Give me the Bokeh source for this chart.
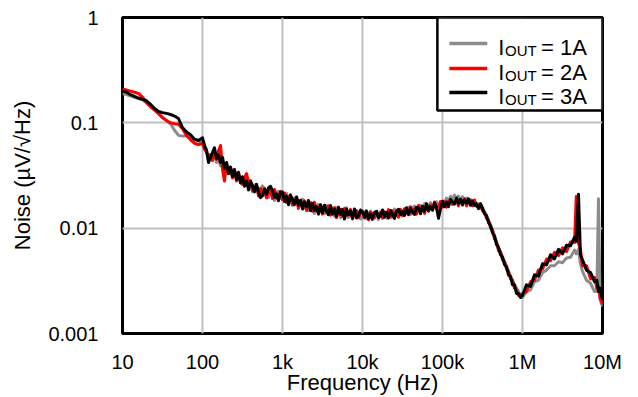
from bokeh.plotting import figure
from bokeh.models import Range1d, FixedTicker, BoxAnnotation, Label
from bokeh.embed import file_html
from bokeh.resources import INLINE

# ---------------- data ----------------
FREQ = [
    10, 11.2, 12.6, 14.1, 15.8, 17.8, 20, 22.4, 25.1, 28.2, 31.6, 35.5, 39.8, 44.7, 50.1, 56.2, 63.1, 70.8, 79.4, 89.1,
    100, 106, 112, 119, 126, 133, 141, 150, 158, 168, 178, 188, 200, 211, 224, 237, 251, 266, 282, 299,
    316, 335, 355, 376, 398, 422, 447, 473, 501, 531, 562, 596, 631, 668, 708, 750, 794, 841, 891, 944,
    1000, 1060, 1120, 1190, 1260, 1330, 1410, 1500, 1580, 1680, 1780, 1880, 2000, 2110, 2240, 2370, 2510, 2660, 2820, 2990,
    3160, 3350, 3550, 3760, 3980, 4220, 4470, 4730, 5010, 5310, 5620, 5960, 6310, 6680, 7080, 7500, 7940, 8410, 8910, 9440,
    1.0e4, 1.06e4, 1.12e4, 1.19e4, 1.26e4, 1.33e4, 1.41e4, 1.5e4, 1.58e4, 1.68e4, 1.78e4, 1.88e4, 2.0e4, 2.11e4, 2.24e4,
    2.37e4, 2.51e4, 2.66e4, 2.82e4, 2.99e4, 3.16e4, 3.35e4, 3.55e4, 3.76e4, 3.98e4, 4.22e4, 4.47e4, 4.73e4, 5.01e4, 5.31e4,
    5.62e4, 5.96e4, 6.31e4, 6.68e4, 7.08e4, 7.5e4, 7.94e4, 8.41e4, 8.91e4, 9.44e4,
    1.0e5, 1.06e5, 1.12e5, 1.19e5, 1.26e5, 1.33e5, 1.41e5, 1.5e5, 1.58e5, 1.68e5, 1.78e5, 1.88e5, 2.0e5, 2.11e5, 2.24e5,
    2.37e5, 2.51e5, 2.66e5, 2.82e5, 2.99e5, 3.16e5, 3.35e5, 3.55e5, 3.76e5, 3.98e5, 4.22e5, 4.47e5, 4.73e5, 5.01e5, 5.31e5,
    5.62e5, 5.96e5, 6.31e5, 6.68e5, 7.08e5, 7.5e5, 7.94e5, 8.41e5, 8.91e5, 9.44e5,
    1.0e6, 1.12e6, 1.26e6, 1.41e6, 1.58e6, 1.78e6, 2.0e6, 2.24e6, 2.51e6, 2.82e6, 3.16e6, 3.55e6, 3.98e6, 4.47e6, 4.7e6,
    5.01e6, 5.3e6, 5.62e6, 6.31e6, 7.08e6, 7.94e6, 8.5e6, 8.91e6, 9.3e6, 1.0e7,
]

NOISE_1A = [
    0.19, 0.185, 0.18, 0.175, 0.17, 0.165, 0.155, 0.145, 0.135, 0.122, 0.113, 0.105, 0.098, 0.085, 0.076, 0.075, 0.075, 0.072, 0.069, 0.067,
    0.066, 0.058, 0.056, 0.047, 0.05, 0.044, 0.049, 0.042, 0.046, 0.039, 0.043, 0.036, 0.04, 0.033, 0.037, 0.031, 0.035, 0.029, 0.033, 0.028,
    0.0302, 0.0259, 0.030, 0.0239, 0.0263, 0.0221, 0.0257, 0.0259, 0.0212, 0.0218, 0.0252, 0.0205, 0.0229, 0.0194, 0.0232, 0.0202, 0.0183, 0.0218, 0.0224, 0.0192,
    0.0216, 0.0185, 0.0215, 0.0173, 0.0193, 0.0164, 0.0194, 0.0196, 0.0161, 0.0167, 0.0189, 0.0155, 0.0173, 0.0147, 0.0175, 0.0153, 0.0138, 0.0164, 0.0168, 0.0144,
    0.0154, 0.0137, 0.0164, 0.0135, 0.0156, 0.0142, 0.013, 0.0156, 0.0148, 0.0125, 0.0151, 0.0131, 0.0156, 0.0126, 0.0138, 0.0127, 0.015, 0.0131, 0.0143, 0.0122,
    0.0126, 0.0143, 0.0123, 0.0137, 0.0145, 0.0125, 0.013, 0.0144, 0.0121, 0.0141, 0.013, 0.0144, 0.0124, 0.0139, 0.0145, 0.0128, 0.0152, 0.0132, 0.0139, 0.0151,
    0.013, 0.0151, 0.0139, 0.0157, 0.0135, 0.0156, 0.0162, 0.0138, 0.0158, 0.0165, 0.0147, 0.0171, 0.0152, 0.0158, 0.0175, 0.0149, 0.0171, 0.0178, 0.0159, 0.0174,
    0.0181, 0.0173, 0.0193, 0.0181, 0.0201, 0.0188, 0.0206, 0.0188, 0.0202, 0.0184, 0.0199, 0.0185, 0.0193, 0.0178, 0.0187, 0.0171, 0.018, 0.0165, 0.017, 0.0155,
    0.0158, 0.0143, 0.0133, 0.0118, 0.0108, 0.0095, 0.0085, 0.0074, 0.0066, 0.0059, 0.0054, 0.0048, 0.0044, 0.0039, 0.0035, 0.0032, 0.0029, 0.0027, 0.0025, 0.0023,
    0.0022, 0.0025, 0.0026, 0.0031, 0.0032, 0.0038, 0.004, 0.0044, 0.0044, 0.0048, 0.0047, 0.0052, 0.0053, 0.0062, 0.0057,
    0.0063, 0.0046, 0.0039, 0.0032, 0.003, 0.0025, 0.0025, 0.019, 0.0021, 0.0018,
]

NOISE_2A = [
    0.21, 0.205, 0.2, 0.195, 0.19, 0.175, 0.155, 0.142, 0.132, 0.122, 0.112, 0.105, 0.1, 0.098, 0.097, 0.088, 0.076, 0.069, 0.064, 0.062,
    0.064, 0.056, 0.053, 0.046, 0.05, 0.044, 0.052, 0.045, 0.054, 0.061, 0.036, 0.028, 0.041, 0.033, 0.038, 0.03, 0.036, 0.028, 0.033, 0.027,
    0.026, 0.030, 0.033, 0.0274, 0.0283, 0.0228, 0.0233, 0.0259, 0.0202, 0.0239, 0.0214, 0.024, 0.0194, 0.0219, 0.023, 0.0191, 0.0233, 0.0194, 0.0202, 0.0222,
    0.0186, 0.0215, 0.0175, 0.0198, 0.0208, 0.0169, 0.0176, 0.0196, 0.0154, 0.0182, 0.0161, 0.0182, 0.0147, 0.0166, 0.0174, 0.0145, 0.0176, 0.0146, 0.0151, 0.0167,
    0.0136, 0.0161, 0.0142, 0.0163, 0.0133, 0.0152, 0.0157, 0.0126, 0.0146, 0.0151, 0.0129, 0.0154, 0.0131, 0.0135, 0.0151, 0.0122, 0.0141, 0.0147, 0.0126, 0.0139,
    0.0145, 0.0125, 0.0138, 0.012, 0.0142, 0.0136, 0.0125, 0.0145, 0.0129, 0.0142, 0.0124, 0.0142, 0.0133, 0.015, 0.0127, 0.0146, 0.0131, 0.0142, 0.0127, 0.015,
    0.0133, 0.0153, 0.014, 0.0134, 0.016, 0.0139, 0.0153, 0.0136, 0.0164, 0.0146, 0.0161, 0.0138, 0.0166, 0.0153, 0.0166, 0.0148, 0.0177, 0.0153, 0.0159, 0.0179,
    0.0158, 0.0179, 0.0158, 0.0179, 0.0188, 0.0168, 0.0174, 0.019, 0.0163, 0.0186, 0.0174, 0.019, 0.0163, 0.018, 0.0184, 0.0163, 0.0185, 0.0161, 0.0163, 0.017,
    0.0147, 0.0142, 0.0124, 0.0119, 0.0101, 0.0096, 0.0079, 0.0074, 0.0061, 0.006, 0.005, 0.0048, 0.0041, 0.0039, 0.0033, 0.0032, 0.0027, 0.0026, 0.0023, 0.0023,
    0.0024, 0.0025, 0.0031, 0.0032, 0.004, 0.0041, 0.0051, 0.0049, 0.0059, 0.0055, 0.0065, 0.006, 0.0074, 0.0073, 0.02,
    0.0072, 0.0063, 0.0044, 0.0044, 0.0033, 0.0034, 0.0027, 0.0028, 0.0022, 0.0019,
]

NOISE_3A = [
    0.2, 0.195, 0.185, 0.178, 0.172, 0.167, 0.162, 0.15, 0.137, 0.128, 0.125, 0.123, 0.12, 0.116, 0.11, 0.09, 0.082, 0.077, 0.07, 0.068,
    0.072, 0.061, 0.055, 0.042, 0.047, 0.052, 0.058, 0.046, 0.05, 0.042, 0.047, 0.037, 0.042, 0.033, 0.038, 0.031, 0.036, 0.029, 0.034, 0.027,
    0.0308, 0.025, 0.0281, 0.0231, 0.0278, 0.0253, 0.0221, 0.0261, 0.0219, 0.0195, 0.0203, 0.0233, 0.0211, 0.0241, 0.025, 0.0227, 0.0196, 0.0212, 0.0182, 0.022,
    0.022, 0.0179, 0.0202, 0.0167, 0.0204, 0.0188, 0.0167, 0.0198, 0.0166, 0.0184, 0.0152, 0.0177, 0.016, 0.0183, 0.0147, 0.0172, 0.0148, 0.016, 0.0136, 0.0166,
    0.014, 0.0165, 0.0145, 0.0134, 0.0164, 0.0136, 0.0151, 0.0129, 0.0158, 0.0135, 0.015, 0.0122, 0.0152, 0.0134, 0.0145, 0.0125, 0.0152, 0.0125, 0.013, 0.0149,
    0.0142, 0.0127, 0.0146, 0.0124, 0.0136, 0.0121, 0.0141, 0.0144, 0.0126, 0.0131, 0.0149, 0.0127, 0.0141, 0.0125, 0.0147, 0.0134, 0.0124, 0.0146, 0.0151, 0.0134,
    0.0144, 0.0132, 0.0156, 0.0135, 0.0154, 0.0143, 0.0135, 0.0158, 0.0155, 0.0137, 0.0161, 0.0145, 0.0171, 0.0145, 0.016, 0.0149, 0.0174, 0.0158, 0.0124, 0.0153,
    0.018, 0.016, 0.0177, 0.016, 0.0187, 0.0179, 0.0169, 0.0193, 0.0172, 0.0188, 0.0166, 0.0185, 0.0173, 0.019, 0.0165, 0.0182, 0.0164, 0.0171, 0.0153, 0.017,
    0.0154, 0.0137, 0.0131, 0.0113, 0.0106, 0.009, 0.0084, 0.007, 0.0066, 0.0056, 0.0053, 0.0045, 0.0043, 0.0036, 0.0035, 0.0029, 0.0029, 0.0024, 0.0024, 0.0022,
    0.0023, 0.0029, 0.0028, 0.0036, 0.0035, 0.0046, 0.0045, 0.0056, 0.0051, 0.0063, 0.0057, 0.0069, 0.0068, 0.0082, 0.0075,
    0.021, 0.0056, 0.005, 0.004, 0.0038, 0.0031, 0.0032, 0.0025, 0.0027, 0.0021,
]

SERIES_NAMES = ["= 1A", "= 2A", "= 3A"]
SERIES_COLORS = ["#8c8c8c", "#ff0000", "#000000"]

X_TICKS = [10, 100, 1000, 10000, 100000, 1000000, 10000000]
X_TICK_LABELS = ["10", "100", "1k", "10k", "100k", "1M", "10M"]
Y_TICKS = [0.001, 0.01, 0.1, 1]
Y_TICK_LABELS = ["0.001", "0.01", "0.1", "1"]

FONT = "Liberation Sans"

# ---------------- figure ----------------
p = figure(
    width=638, height=397,
    x_axis_type="log", y_axis_type="log",
    x_range=Range1d(10, 1e7), y_range=Range1d(1e-3, 1),
    output_backend="svg", toolbar_location=None,
    min_border_left=122, min_border_right=36, min_border_top=17, min_border_bottom=64,
    background_fill_color="white", border_fill_color="white",
)

p.outline_line_color = "black"
p.outline_line_width = 3

for ax in (p.xaxis[0], p.yaxis[0]):
    ax.axis_line_color = None
    ax.major_tick_line_color = None
    ax.minor_tick_line_color = None
    ax.major_label_text_font = FONT
    ax.major_label_text_font_size = "20px"
    ax.major_label_text_color = "black"
    ax.axis_label_text_font = FONT
    ax.axis_label_text_font_size = "22px"
    ax.axis_label_text_font_style = "normal"
    ax.axis_label_text_color = "black"

p.xaxis.ticker = FixedTicker(ticks=X_TICKS)
p.xaxis.major_label_overrides = {t: l for t, l in zip(X_TICKS, X_TICK_LABELS)}
p.yaxis.ticker = FixedTicker(ticks=Y_TICKS)
p.yaxis.major_label_overrides = {t: l for t, l in zip(Y_TICKS, Y_TICK_LABELS)}
p.xaxis.major_label_standoff = 11
p.xaxis.axis_label_standoff = -6
p.yaxis.major_label_standoff = 18
p.yaxis.axis_label_standoff = 10
p.xaxis.axis_label = "Frequency (Hz)"
p.yaxis.axis_label = "Noise (µV/√Hz)"

p.xgrid.ticker = FixedTicker(ticks=X_TICKS[1:-1])
p.ygrid.ticker = FixedTicker(ticks=Y_TICKS[1:-1])
for g in (p.xgrid[0], p.ygrid[0]):
    g.grid_line_color = "#c0c0c0"
    g.grid_line_width = 2
    g.minor_grid_line_color = None

for vals, color in zip([NOISE_1A, NOISE_2A, NOISE_3A], SERIES_COLORS):
    p.line(FREQ, vals, line_color=color, line_width=3, line_join="round")


# ---------------- legend (manual, for the subscript) ----------------
def fx(frac):
    return 10 ** (1 + 6 * frac)


def fy(frac):
    return 10 ** (-3 + 3 * frac)


p.add_layout(BoxAnnotation(left=fx(0.656), right=fx(1.0), bottom=fy(0.706), top=fy(1.0),
                           fill_color="white", fill_alpha=1, line_color="black", line_alpha=1,
                           line_width=2.5))

row_line_y = [0.918, 0.839, 0.763]
row_text_y = [0.904, 0.825, 0.749]
row_sub_y = [0.897, 0.818, 0.742]
for i, (name, color) in enumerate(zip(SERIES_NAMES, SERIES_COLORS)):
    p.line([fx(0.681), fx(0.760)], [fy(row_line_y[i])] * 2, line_color=color, line_width=3.5,
           level="overlay")
    p.add_layout(Label(x=fx(0.783), y=fy(row_text_y[i]), text="I", text_font=FONT,
                       text_font_size="22px", text_baseline="alphabetic", text_color="black"))
    p.add_layout(Label(x=fx(0.797), y=fy(row_sub_y[i]), text="OUT", text_font=FONT,
                       text_font_size="15px", text_baseline="alphabetic", text_color="black"))
    p.add_layout(Label(x=fx(0.872), y=fy(row_text_y[i]), text=name, text_font=FONT,
                       text_font_size="22px", text_baseline="alphabetic", text_color="black"))

open("out.html", "w").write(file_html(p, INLINE))
